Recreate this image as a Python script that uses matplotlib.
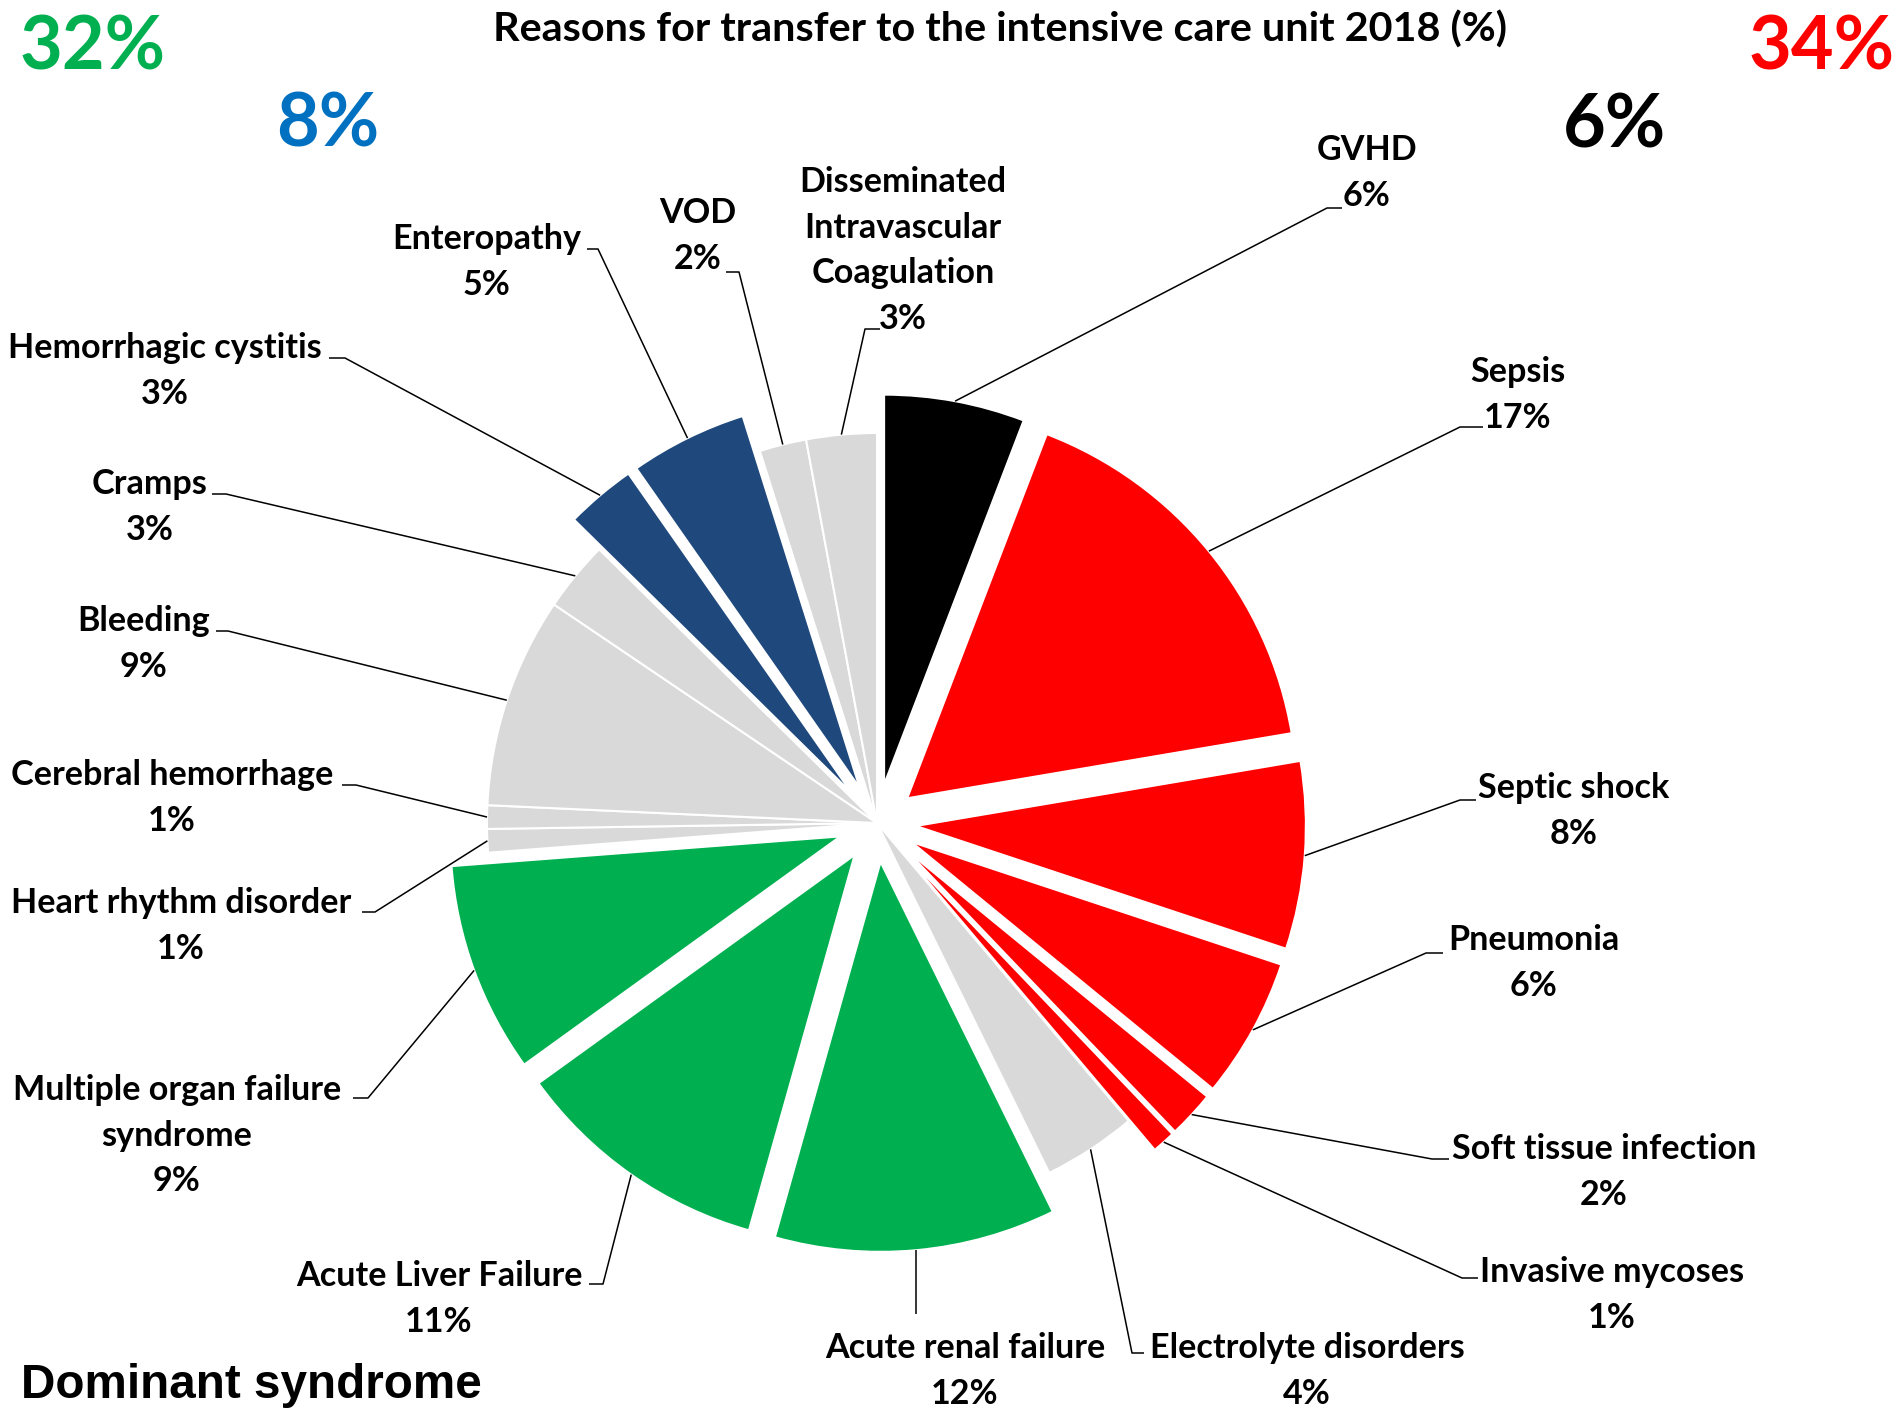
import numpy as np
import matplotlib
matplotlib.use("Agg")
import matplotlib.pyplot as plt
from matplotlib import font_manager as fm

# ---- data -------------------------------------------------------------
reasons = [
    "GVHD", "Sepsis", "Septic shock", "Pneumonia", "Soft tissue infection",
    "Invasive mycoses", "Electrolyte disorders", "Acute renal failure",
    "Acute Liver Failure", "Multiple organ failure\nsyndrome",
    "Heart rhythm disorder", "Cerebral hemorrhage", "Bleeding", "Cramps",
    "Hemorrhagic cystitis", "Enteropathy", "VOD",
    "Disseminated\nIntravascular\nCoagulation",
]
shares = [6, 17, 8, 6, 2, 1, 4, 12, 11, 9, 1, 1, 9, 3, 3, 5, 2, 3]
groups = ["gvhd", "infection", "infection", "infection", "infection",
          "infection", "other", "organ", "organ", "organ", "other", "other",
          "other", "other", "gut", "gut", "other", "other"]

group_totals = ["32%", "8%", "34%", "6%"]
title = "Reasons for transfer to the intensive care unit 2018 (%)"
footer = "Dominant syndrome"

# ---- style ------------------------------------------------------------
group_colors = {"gvhd": "#000000", "infection": "#FF0000", "organ": "#00B050",
                "gut": "#1F497D", "other": "#D9D9D9"}
total_colors = ["#00B050", "#0070C0", "#FF0000", "#000000"]

W, H = 1903, 1418
CX, CY = 877, 823          # pie centre (pixels from top-left)
R = 390                    # pie radius in pixels
EXPLODE = 39               # offset of highlighted slices in pixels
LINE_STEP = 45.5           # label line spacing in pixels

available = {f.name for f in fm.fontManager.ttflist}


def pick(cands):
    for c in cands:
        if c in available:
            return c
    return "DejaVu Sans"


LABEL_FONT = pick(["Liberation Sans Narrow", "Lato", "Open Sans"])
FOOT_FONT = pick(["Liberation Sans Narrow", "Liberation Sans", "Arial"])


def Y(y):
    return H - y


fig = plt.figure(figsize=(W / 100, H / 100), dpi=100)
ax = fig.add_axes([0, 0, 1, 1])

colors = [group_colors[g] for g in groups]
explode = [0 if g == "other" else EXPLODE for g in groups]
wedges, _ = ax.pie(shares, colors=colors, explode=explode, startangle=90,
                   counterclock=False, radius=R, center=(CX, Y(CY)),
                   wedgeprops=dict(edgecolor="white", linewidth=1.5),
                   frame=False)
ax.set_xlim(0, W)
ax.set_ylim(0, H)
ax.set_aspect("equal")
ax.axis("off")

renderer = fig.canvas.get_renderer()


def width_at(s, size, family, weight="bold"):
    t = ax.text(0, 0, s, fontsize=size, family=family, weight=weight)
    w = t.get_window_extent(renderer).width
    t.remove()
    return w


def fit(s, target, family, weight="bold"):
    return 100 * target / width_at(s, 100, family, weight)


label_size = 0.5 * (fit("Septic shock", 189, LABEL_FONT)
                    + fit("Soft tissue infection", 306, LABEL_FONT))
label_px = label_size * 100 / 72
big_size = fit("32%", 146, LABEL_FONT)
big_px = big_size * 100 / 72
title_size = fit(title, 1016, LABEL_FONT)
title_px = title_size * 100 / 72
foot_size = fit(footer, 461, FOOT_FONT)
foot_px = foot_size * 100 / 72
CAP = 0.72


def centred_line(x, yc, s, size_pt, size_px, color="black", family=LABEL_FONT):
    ax.text(x, Y(yc + 0.5 * CAP * size_px), s, fontsize=size_pt,
            family=family, weight="bold", color=color,
            ha="center", va="baseline")


# label block centres (x, first line y) and leader elbow / end points
label_pos = [
    (1367, 148), (1518, 370), (1574, 786), (1534, 938), (1604, 1147),
    (1612, 1270), (1307, 1346), (965, 1346), (439, 1274), (177, 1088),
    (181, 901), (172, 773), (144, 619), (150, 482), (165, 346),
    (487, 237), (698, 211), (903, 180),
]
leader_pts = [
    [(1327, 208), (1342, 208)],
    [(1460, 427), (1483, 427)],
    [(1460, 800), (1476, 800)],
    [(1426, 953), (1443, 953)],
    [(1432, 1159), (1449, 1159)],
    [(1462, 1278), (1478, 1278)],
    [(1132, 1353), (1144, 1353)],
    [(None, 1314)],
    [(603, 1284), (589, 1284)],
    [(368, 1098), (353, 1098)],
    [(375, 912), (362, 912)],
    [(356, 785), (342, 785)],
    [(228, 631), (216, 631)],
    [(226, 494), (212, 494)],
    [(345, 358), (329, 358)],
    [(598, 249), (587, 249)],
    [(739, 272), (726, 272)],
    [(865, 329), (880, 329)],
]

for w, name, val, (lx, ly), pts in zip(wedges, reasons, shares,
                                        label_pos, leader_pts):
    th = np.deg2rad(0.5 * (w.theta1 + w.theta2))
    ax_x = w.center[0] + w.r * np.cos(th)
    ax_y = w.center[1] + w.r * np.sin(th)
    xs, ys = [ax_x], [ax_y]
    for px, py in pts:
        xs.append(ax_x if px is None else px)
        ys.append(Y(py))
    ax.plot(xs, ys, color="black", lw=1.1, solid_capstyle="butt", zorder=3)
    lines = name.split("\n") + [f"{val}%"]
    for i, s in enumerate(lines):
        centred_line(lx, ly + i * LINE_STEP, s, label_size, label_px)

# group totals
total_pos = [(93, 43), (328, 120), (1822, 43), (1615, 121)]
for s, c, (x, y) in zip(group_totals, total_colors, total_pos):
    centred_line(x, y, s, big_size, big_px, color=c)

centred_line(1000, 27, title, title_size, title_px)
centred_line(251, 1381, footer, foot_size, foot_px, family=FOOT_FONT)

fig.savefig("out.png", dpi=100, facecolor="white")
